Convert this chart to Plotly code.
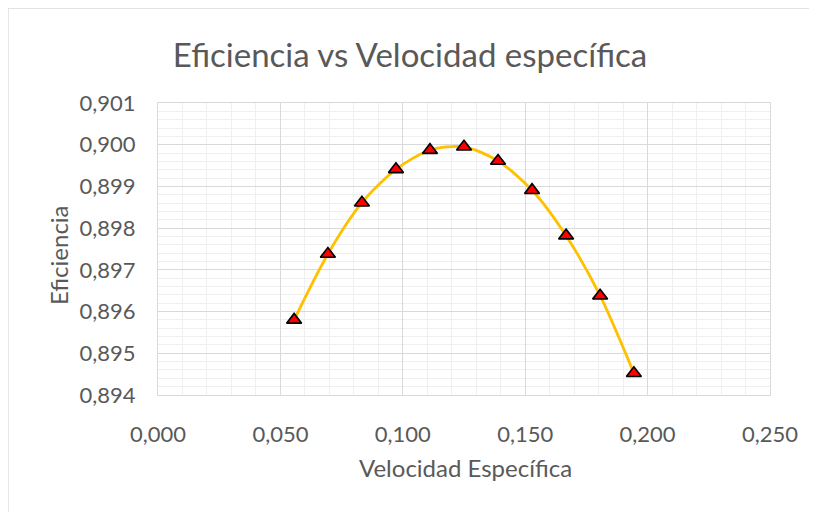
import plotly.graph_objects as go

# Data
velocidad = [0.0556, 0.0694, 0.0833, 0.0972, 0.1111, 0.1250, 0.1389, 0.1528, 0.1667, 0.1806, 0.1944]
eficiencia = [0.89580, 0.89738, 0.89861, 0.89941, 0.89987, 0.89995, 0.89961, 0.89891, 0.89782, 0.89638, 0.89452]

x_ticks = [0.0, 0.05, 0.10, 0.15, 0.20, 0.25]
y_ticks = [0.894, 0.895, 0.896, 0.897, 0.898, 0.899, 0.900, 0.901]

FONT = "Lato"
GREY_TXT = "#595959"
W, H = 809, 504  # page body has an 8px margin

fig = go.Figure()
fig.add_trace(go.Scatter(
    x=velocidad, y=eficiencia, mode="lines+markers",
    line=dict(color="#FFC000", width=2.8, shape="spline", smoothing=0.8),
    marker=dict(symbol="triangle-up", size=13, color="#FF0000",
                line=dict(color="#000000", width=1.6)),
    showlegend=False,
))

fig.update_layout(
    width=W, height=H,
    margin=dict(l=150, r=47, t=95, b=117),
    paper_bgcolor="white", plot_bgcolor="white",
    separators=",.",
    font=dict(family=FONT, color=GREY_TXT),
    title=dict(text="Eficiencia vs Velocidad específica", x=402 / W, xref="container",
               y=1 - 47 / H, yref="container", xanchor="center", yanchor="middle",
               font=dict(family=FONT, size=33, color=GREY_TXT)),
    xaxis=dict(range=[0, 0.25], tickvals=x_ticks, tickformat=".3f",
               showgrid=True, gridcolor="#D9D9D9", gridwidth=1.3,
               minor=dict(dtick=0.01, showgrid=True, gridcolor="#EFEFEF", gridwidth=1.3),
               showline=True, linecolor="#D9D9D9", linewidth=1.3, mirror=True,
               zeroline=False, ticks="outside", ticklen=19, tickcolor="rgba(0,0,0,0)",
               tickfont=dict(family=FONT, size=22, color=GREY_TXT)),
    yaxis=dict(range=[0.894, 0.901], tickvals=y_ticks, tickformat=".3f",
               showgrid=True, gridcolor="#D9D9D9", gridwidth=1.3,
               minor=dict(dtick=0.0002, showgrid=True, gridcolor="#EFEFEF", gridwidth=1.3),
               showline=True, linecolor="#D9D9D9", linewidth=1.3, mirror=True,
               zeroline=False, ticks="outside", ticklen=17, tickcolor="rgba(0,0,0,0)",
               tickfont=dict(family=FONT, size=22, color=GREY_TXT)),
    annotations=[
        dict(text="Velocidad Específica", x=(465 - 158) / 612, xref="paper", y=(395 - 467) / 292, yref="paper",
             xanchor="center", yanchor="middle", showarrow=False,
             font=dict(family=FONT, size=24, color=GREY_TXT)),
        dict(text="Eficiencia", x=(58 - 158) / 612, xref="paper", y=(395 - 255) / 292, yref="paper",
             xanchor="center", yanchor="middle", showarrow=False, textangle=-90,
             font=dict(family=FONT, size=24, color=GREY_TXT)),
    ],
    shapes=[dict(type="rect", xref="paper", yref="paper",
                 x0=(8 - 158) / 612, x1=1.2, y0=-0.5, y1=(395 - 8) / 292,
                 line=dict(color="#D9D9D9", width=1.3), layer="below")],
)

fig.write_html("out.html")
